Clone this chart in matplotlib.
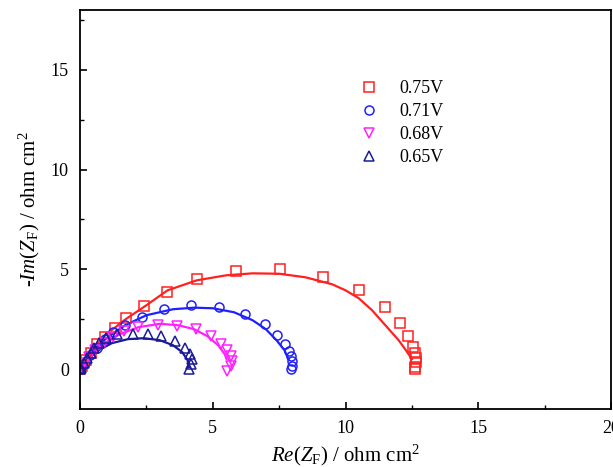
import matplotlib
matplotlib.use("Agg")
import matplotlib.pyplot as plt
from matplotlib.ticker import MultipleLocator

plt.rcParams["font.family"] = ["Liberation Serif", "DejaVu Serif"]
plt.rcParams["mathtext.fontset"] = "custom"
plt.rcParams["mathtext.rm"] = "Liberation Serif"
plt.rcParams["mathtext.it"] = "Liberation Serif:italic"

# measured points (Re, -Im), ohm cm2
re_075 = [0.0, 0.07, 0.22, 0.41, 0.64, 0.93, 1.32, 1.72, 2.41, 3.27, 4.42, 5.89, 7.54,
          9.16, 10.5, 11.48, 12.04, 12.37, 12.53, 12.62, 12.65, 12.65, 12.62, 12.62]
im_075 = [0.0, 0.17, 0.47, 0.83, 1.25, 1.63, 2.07, 2.58, 3.17, 3.87, 4.5, 4.92, 5.0,
          4.63, 3.95, 3.13, 2.3, 1.67, 1.13, 0.8, 0.58, 0.37, 0.13, 0.0]
re_071 = [0.0, 0.05, 0.17, 0.38, 0.64, 0.93, 1.25, 1.70, 2.35, 3.18, 4.17, 5.24, 6.21,
          6.97, 7.43, 7.74, 7.88, 7.94, 7.97, 7.97, 7.94]
im_071 = [0.0, 0.12, 0.33, 0.7, 1.08, 1.5, 1.85, 2.2, 2.63, 3.0, 3.22, 3.12, 2.78,
          2.25, 1.72, 1.25, 0.92, 0.67, 0.42, 0.17, 0.0]
re_068 = [0.0, 0.05, 0.15, 0.33, 0.58, 0.9, 1.25, 1.67, 2.2, 2.93, 3.67, 4.38, 4.93,
          5.31, 5.52, 5.67, 5.72, 5.67, 5.55]
im_068 = [0.0, 0.1, 0.3, 0.6, 0.95, 1.3, 1.6, 1.92, 2.12, 2.2, 2.17, 2.0, 1.67,
          1.25, 0.97, 0.67, 0.42, 0.17, -0.08]
re_065 = [0.0, 0.05, 0.14, 0.27, 0.4, 0.53, 0.72, 0.97, 1.41, 1.98, 2.55, 3.05, 3.56,
          3.94, 4.13, 4.23, 4.19, 4.1]
im_065 = [0.0, 0.08, 0.33, 0.58, 0.83, 1.08, 1.33, 1.55, 1.75, 1.78, 1.75, 1.67, 1.42,
          1.08, 0.75, 0.5, 0.25, 0.0]

# fitted curves
fit_re_075 = [0.0, 0.5, 1.0, 1.72, 2.5, 3.3, 4.4, 5.5, 6.5, 7.5, 8.5, 9.5, 10.0, 10.5,
              11.0, 11.5, 12.0, 12.3, 12.5]
fit_im_075 = [0.0, 1.1, 1.75, 2.5, 3.2, 3.95, 4.45, 4.7, 4.8, 4.78, 4.6, 4.25, 3.95, 3.55,
              2.95, 2.2, 1.45, 0.9, 0.5]
fit_re_071 = [0.0, 0.5, 1.0, 1.7, 2.5, 3.5, 4.3, 5.0, 5.8, 6.5, 7.0, 7.4, 7.7, 7.85]
fit_im_071 = [0.0, 0.95, 1.55, 2.2, 2.7, 3.0, 3.08, 3.05, 2.85, 2.45, 2.0, 1.45, 0.95, 0.5]
fit_re_068 = [0.0, 0.5, 1.0, 1.5, 2.2, 3.0, 3.7, 4.3, 4.8, 5.2, 5.45, 5.52]
fit_im_068 = [0.0, 0.85, 1.35, 1.75, 2.1, 2.27, 2.2, 2.0, 1.65, 1.2, 0.75, 0.5]
fit_re_065 = [0.0, 0.3, 0.7, 1.2, 1.8, 2.4, 3.0, 3.5, 3.85, 4.05, 4.1]
fit_im_065 = [0.0, 0.5, 0.95, 1.3, 1.5, 1.55, 1.45, 1.2, 0.85, 0.45, 0.1]

labels = ["0.75V", "0.71V", "0.68V", "0.65V"]
colors = ["#ff2020", "#2020ff", "#ff20ff", "#1a1a99"]
markers = ["s", "o", "v", "^"]

points = [(re_075, im_075), (re_071, im_071), (re_068, im_068), (re_065, im_065)]
fits = [(fit_re_075, fit_im_075), (fit_re_071, fit_im_071),
        (fit_re_068, fit_im_068), (fit_re_065, fit_im_065)]

fig = plt.figure(figsize=(6.13, 4.67), dpi=100)
ax = fig.add_axes([80 / 613, 1 - 409 / 467, 531 / 613, 399 / 467])

for (x, y), c in zip(fits, colors):
    ax.plot(x, y, color=c, lw=1.6)
for (x, y), c, m, lab in zip(points, colors, markers, labels):
    ax.plot(x, y, ls="none", marker=m, ms=6.5, mfc="none", mec=c, mew=1.1, label=lab)

ax.set_xlim(0, 20)
ax.set_ylim(-2, 18)
ax.xaxis.set_major_locator(MultipleLocator(5))
ax.xaxis.set_minor_locator(MultipleLocator(2.5))
ax.yaxis.set_major_locator(MultipleLocator(5))
ax.yaxis.set_minor_locator(MultipleLocator(2.5))
ax.tick_params(which="both", direction="in", labelsize=13)
ax.tick_params(which="major", length=5, width=1.2, pad=8)
ax.tick_params(which="minor", length=3, width=1.0)
for s in ax.spines.values():
    s.set_linewidth(1.3)

ax.set_xlabel(r"$\mathit{Re(Z}_{\mathrm{F}}\mathit{)}$ / ohm cm$^2$", fontsize=15, labelpad=4)
ax.set_ylabel(r"-$\mathit{Im(Z}_{\mathrm{F}}\mathit{)}$ / ohm cm$^2$", fontsize=15, labelpad=6)

ax.legend(loc="upper left", bbox_to_anchor=(0.487, 0.865), frameon=False, fontsize=13,
          handletextpad=0.85, labelspacing=0.33, handlelength=1.6)

fig.savefig("out.png", dpi=100)
